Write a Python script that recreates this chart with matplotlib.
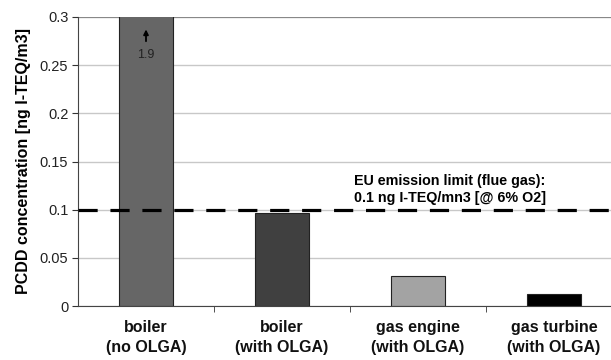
import numpy as np
import matplotlib.pyplot as plt

plt.rcParams['font.family'] = ['Liberation Sans', 'DejaVu Sans']

categories = ["boiler\n(no OLGA)", "boiler\n(with OLGA)", "gas engine\n(with OLGA)", "gas turbine\n(with OLGA)"]
values = [1.9, 0.097, 0.031, 0.0125]
colors = ["#666666", "#404040", "#a3a3a3", "#000000"]
limit = 0.1
yticks = [0, 0.05, 0.1, 0.15, 0.2, 0.25, 0.3]
ytick_labels = ["0", "0.05", "0.1", "0.15", "0.2", "0.25", "0.3"]

fig = plt.figure(figsize=(6.11, 3.6), dpi=100)
ax = fig.add_axes([78 / 611, 54 / 360, 544 / 611, 289 / 360])

x = np.arange(len(categories))
ax.bar(x, values, width=0.39, color=colors, edgecolor="#222222", linewidth=0.8, zorder=2)

ax.set_ylim(0, 0.3)
ax.set_xlim(-0.5, 3.5)
ax.set_yticks(yticks)
ax.set_yticklabels(ytick_labels, fontsize=10.5, color="#222222")
ax.yaxis.grid(True, color="#c8c8c8", linewidth=1.0, zorder=0)
ax.set_axisbelow(True)

ax.set_xticks(x)
ax.set_xticklabels(categories, fontsize=11.5, fontweight="bold", color="#111111", linespacing=1.4)
ax.tick_params(axis="x", which="major", length=0, pad=10)
ax.set_xticks([0.5, 1.5, 2.5], minor=True)
ax.tick_params(axis="x", which="minor", length=4, direction="out", color="#333333")
ax.tick_params(axis="y", length=4, direction="out", color="#333333", pad=3)

for s in ["top", "right"]:
    ax.spines[s].set_visible(False)
ax.spines["left"].set_color("#444444")
ax.spines["bottom"].set_color("#444444")
ax.axhline(0.3, color="#888888", linewidth=1.5, zorder=1)

ax.axhline(limit, color="black", linewidth=2.3, linestyle=(0, (6, 4)), zorder=3)
ax.text(1.53, 0.105, "EU emission limit (flue gas):\n0.1 ng I-TEQ/mn3 [@ 6% O2]",
        fontsize=10.3, fontweight="bold", ha="left", va="bottom", linespacing=1.3)

ax.annotate("", xy=(0, 0.29), xytext=(0, 0.272),
            arrowprops=dict(arrowstyle="-|>", color="black", lw=1.3, mutation_scale=7))
ax.text(0, 0.261, "1.9", fontsize=9, ha="center", va="center", color="#222222")

ax.set_ylabel("PCDD concentration [ng I-TEQ/m3]", fontsize=11.5, fontweight="bold", labelpad=6)

fig.savefig("out.png", dpi=100)
